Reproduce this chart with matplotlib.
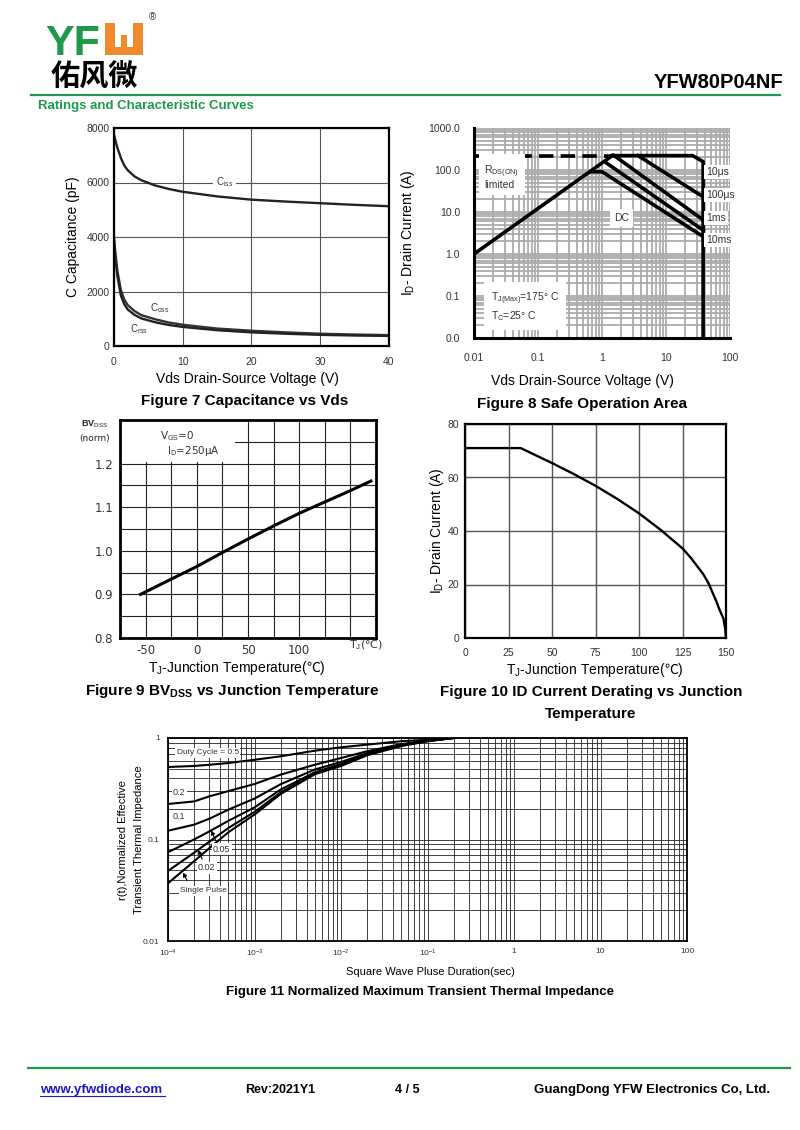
import numpy as np
import matplotlib
matplotlib.use('Agg')
import matplotlib.pyplot as plt
from matplotlib.patches import Rectangle
from matplotlib.ticker import LogLocator, NullFormatter, MultipleLocator

plt.rcParams['font.family'] = ['Liberation Sans', 'Noto Sans CJK SC', 'DejaVu Sans']
plt.rcParams['mathtext.fontset'] = 'custom'
plt.rcParams['mathtext.rm'] = 'Liberation Sans'
plt.rcParams['mathtext.it'] = 'Liberation Sans:italic'
plt.rcParams['mathtext.bf'] = 'Liberation Sans:bold'
plt.rcParams['mathtext.sf'] = 'Noto Sans CJK SC'
plt.rcParams['mathtext.default'] = 'rm'

W, H = 800, 1130
GREEN = '#1f9a4c'
ORANGE = '#f08a2c'
TICK = '#333333'

## Figure 7 - capacitance vs Vds (pF)
cap_vds = [0, 0.25, 0.5, 1, 1.5, 2, 3, 4, 6, 8, 10, 15, 20, 25, 30, 35, 40]
cap_ciss = [7750, 7500, 7270, 6900, 6620, 6450, 6220, 6080, 5890, 5760, 5660, 5490, 5370, 5300, 5240, 5180, 5130]
cap_coss = [4000, 3300, 2750, 2050, 1700, 1500, 1280, 1130, 980, 860, 780, 640, 560, 500, 450, 420, 400]
cap_crss = [3800, 3100, 2550, 1850, 1530, 1340, 1140, 1010, 870, 770, 700, 580, 500, 450, 410, 385, 370]

## Figure 8 - safe operating area (V, A)
soa_rds_v = [0.01, 1.45]
soa_rds_i = [1.0, 220]
soa_dash_v = [0.01, 1.45]
soa_dash_i = [220, 220]
soa_10us_v = [1.45, 26, 38, 38]
soa_10us_i = [220, 220, 158, 0.01]
soa_100us_v = [3.65, 38]
soa_100us_i = [220, 23]
soa_1ms_v = [1.55, 38]
soa_1ms_i = [220, 6.5]
soa_10ms_v = [1.15, 38]
soa_10ms_i = [150, 3.7]
soa_dc_v = [0.68, 1.0, 38]
soa_dc_i = [91, 91, 2.6]

## Figure 9 - BVdss (norm) vs Tj
bv_temp = [-55, -25, 0, 25, 50, 75, 100, 125, 150, 170]
bv_norm = [0.900, 0.935, 0.964, 0.996, 1.027, 1.057, 1.086, 1.112, 1.138, 1.160]

## Figure 10 - Id derating vs Tj
id_temp = [0, 32, 50, 62.5, 75, 87.5, 100, 112.5, 125, 130, 137, 140, 144.6, 146, 148.5, 149.5, 150]
id_curr = [71, 71, 65.4, 61.3, 56.9, 52, 46.6, 40.4, 33.5, 29.8, 23.8, 20.4, 13.5, 11, 7.3, 3.5, 0]

## Figure 11 - transient thermal impedance
th_t = [1e-4, 2e-4, 3e-4, 5e-4, 1e-3, 2e-3, 5e-3, 1e-2, 2e-2, 5e-2, 1e-1, 2e-1]
th_d50 = [0.518, 0.53, 0.545, 0.567, 0.61, 0.66, 0.75, 0.81, 0.86, 0.93, 0.96, 1.0]
th_d20 = [0.224, 0.237, 0.266, 0.30, 0.352, 0.435, 0.546, 0.635, 0.74, 0.87, 0.94, 1.0]
th_d10 = [0.122, 0.14, 0.16, 0.197, 0.253, 0.35, 0.49, 0.58, 0.71, 0.86, 0.94, 1.0]
th_d05 = [0.075, 0.10, 0.12, 0.153, 0.207, 0.31, 0.46, 0.554, 0.695, 0.85, 0.935, 1.0]
th_d02 = [0.049, 0.074, 0.095, 0.13, 0.187, 0.29, 0.45, 0.538, 0.685, 0.84, 0.93, 1.0]
th_single = [0.037, 0.061, 0.082, 0.118, 0.176, 0.28, 0.44, 0.53, 0.675, 0.835, 0.93, 1.0]

fig = plt.figure(figsize=(8, 11.3), dpi=100)

# page overlay in pixel coords (y down)
page = fig.add_axes([0, 0, 1, 1])
page.set_xlim(0, W)
page.set_ylim(H, 0)
page.axis('off')


def px_axes(x0, y0, x1, y1):
    return fig.add_axes([x0 / W, 1 - y1 / H, (x1 - x0) / W, (y1 - y0) / H])


## header
page.text(45, 55, 'YF', color=GREEN, fontsize=31, fontweight='bold', va='baseline')
for r in [(105, 23, 10, 32), (133, 23, 10, 32), (105, 47, 38, 8), (121, 35, 6, 13)]:
    page.add_patch(Rectangle((r[0], r[1]), r[2], r[3], color=ORANGE, lw=0))
page.text(152, 17, '®', fontsize=7, ha='center', va='center', color='#333')
page.text(51, 77, '佑风微', family='Noto Sans CJK SC', fontweight='bold', fontsize=21, va='center')
page.text(783, 88, 'YFW80P04NF', fontsize=14.5, fontweight='bold', ha='right', va='baseline')
page.plot([31, 780], [95, 95], color=GREEN, lw=1.6)
page.text(38, 106, 'Ratings and Characteristic Curves', color=GREEN, fontsize=9.5,
          fontweight='bold', va='center')

## footer
page.plot([28, 790], [1068, 1068], color=GREEN, lw=1.6)
page.text(40, 1090, 'www.yfwdiode.com', color='#1a1acc', fontsize=9.5, fontweight='bold', va='center')
page.plot([40, 165], [1096, 1096], color='#1a1acc', lw=0.8)
page.text(245, 1090, 'Rev:2021Y1', fontsize=9, fontweight='bold', va='center')
page.text(395, 1090, '4 / 5', fontsize=9, fontweight='bold', va='center')
page.text(770, 1090, 'GuangDong YFW Electronics Co, Ltd.', fontsize=9.5, fontweight='bold',
          va='center', ha='right')

## Figure 7
ax7 = px_axes(114, 128, 389, 346)
ax7.plot(cap_vds, cap_ciss, color='#222', lw=1.7)
ax7.plot(cap_vds, cap_coss, color='#333', lw=1.7)
ax7.plot(cap_vds, cap_crss, color='#222', lw=1.7)
ax7.set_xlim(0, 40)
ax7.set_ylim(0, 8000)
ax7.set_xticks([0, 10, 20, 30, 40])
ax7.set_yticks([0, 2000, 4000, 6000, 8000])
ax7.grid(color='#555', lw=0.8)
ax7.tick_params(length=0, labelsize=7.5, colors=TICK)
ax7.tick_params(axis='x', pad=8)
ax7.tick_params(axis='y', pad=3)
for s in ax7.spines.values():
    s.set_linewidth(1.6)
ax7.text(16.1, 6000, 'C$_{iss}$', fontsize=7, color=TICK, ha='center', va='center',
         bbox=dict(fc='white', ec='none', pad=2))
ax7.text(6.6, 1400, 'C$_{oss}$', fontsize=7, color=TICK, ha='center', va='center')
ax7.text(3.7, 610, 'C$_{rss}$', fontsize=7, color=TICK, ha='center', va='center')
page.text(73, 237, 'C Capacitance (pF)', fontsize=10, rotation=90, ha='center', va='center')
page.text(247, 379, 'Vds Drain-Source Voltage (V)', fontsize=10, ha='center', va='center')
page.text(245, 401, 'Figure 7 Capacitance vs Vds', fontsize=11, fontweight='bold', ha='center', va='center')

## Figure 8
ax8 = px_axes(474, 128, 730, 338)
ax8.set_xscale('log')
ax8.set_yscale('log')
ax8.set_xlim(0.01, 100)
ax8.set_ylim(0.01, 1000)
for axis in (ax8.xaxis, ax8.yaxis):
    axis.set_minor_locator(LogLocator(base=10, subs=np.arange(2, 10), numticks=100))
    axis.set_minor_formatter(NullFormatter())
ax8.grid(which='both', color='#ababab', lw=1.3)
ax8.set_xticks([0.01, 0.1, 1, 10, 100])
ax8.set_xticklabels(['0.01', '0.1', '1', '10', '100'])
ax8.set_yticks([0.01, 0.1, 1, 10, 100, 1000])
ax8.set_yticklabels(['0.0', '0.1', '1.0', '10.0', '100.0', '1000.0'])
ax8.tick_params(which='both', length=0, labelsize=7.5, colors=TICK)
ax8.tick_params(axis='x', pad=11)
ax8.tick_params(axis='y', pad=10)
ax8.spines['top'].set_visible(False)
ax8.spines['right'].set_visible(False)
ax8.spines['left'].set_linewidth(2.2)
ax8.spines['bottom'].set_linewidth(2.2)
ax8.plot(soa_dash_v, soa_dash_i, color='k', lw=2.6, ls=(0, (4, 2)))
ax8.plot(soa_rds_v, soa_rds_i, color='k', lw=2.6)
ax8.plot(soa_10us_v, soa_10us_i, color='k', lw=2.6)
ax8.plot(soa_100us_v, soa_100us_i, color='k', lw=2.6)
ax8.plot(soa_1ms_v, soa_1ms_i, color='k', lw=2.6)
ax8.plot(soa_10ms_v, soa_10ms_i, color='k', lw=2.6)
ax8.plot(soa_dc_v, soa_dc_i, color='k', lw=2.6)
wbox = dict(fc='white', ec='none', pad=1.5)
ax8.text(0.0145, 70, 'R$_{DS(ON)}$\nlimited', fontsize=7.5, color=TICK, va='center', ha='left',
         linespacing=1.0, bbox=dict(fc='white', ec='none', pad=4))
ax8.text(1.55, 7.2, 'DC', fontsize=7.5, color=TICK, va='center', ha='left',
         bbox=dict(fc='white', ec='none', pad=3))
ax8.text(0.0185, 0.055, 'T$_{J(Max)}$=175° C\nT$_C$=25° C', fontsize=7.5, color=TICK,
         va='center', ha='left', linespacing=1.2, bbox=dict(fc='white', ec='none', pad=5))
for lab, yv in [('10μs', 89), ('100μs', 25), ('1ms', 7.2), ('10ms', 2.16)]:
    ax8.text(42, yv, lab, fontsize=7.5, color=TICK, va='center', ha='left', bbox=wbox)
page.text(408, 233, 'I$_D$- Drain Current (A)', fontsize=10, rotation=90, ha='center', va='center')
page.text(582, 381, 'Vds Drain-Source Voltage (V)', fontsize=10, ha='center', va='center')
page.text(582, 404, 'Figure 8 Safe Operation Area', fontsize=11, fontweight='bold', ha='center', va='center')

## Figure 9
ax9 = px_axes(120, 420, 376, 638)
ax9.plot(bv_temp, bv_norm, color='k', lw=2.2, zorder=3)
ax9.set_xlim(-75, 175)
ax9.set_ylim(0.8, 1.3)
ax9.set_xticks([-50, 0, 50, 100])
ax9.set_xticklabels(['-50', '0', '50', '100'])
ax9.xaxis.set_minor_locator(MultipleLocator(25))
ax9.set_yticks([0.8, 0.9, 1.0, 1.1, 1.2])
ax9.set_yticklabels(['0.8', '0.9', '1.0', '1.1', '1.2'])
ax9.yaxis.set_minor_locator(MultipleLocator(0.05))
ax9.grid(which='both', color='#222', lw=0.8)
ax9.tick_params(which='both', length=0, labelsize=8.5, colors=TICK, labelfontfamily='DejaVu Sans')
ax9.tick_params(axis='x', pad=4)
ax9.tick_params(axis='y', pad=5)
for s in ax9.spines.values():
    s.set_linewidth(2)
ax9.add_patch(Rectangle((-75, 1.203), 112, 0.097, fc='white', ec='none', zorder=1.6))
ax9.text(-36, 1.262, 'V$_{GS}$=0', fontsize=7.5, family='DejaVu Sans', color=TICK, va='center', zorder=4)
ax9.text(-29, 1.228, 'I$_D$=250μA', fontsize=7.5, family='DejaVu Sans', color=TICK, va='center', zorder=4)
ax9.text(165, 0.8, 'T$_J$(°C)', fontsize=8, family='DejaVu Sans', color=TICK, ha='center', va='top',
         transform=ax9.transData, clip_on=False)
page.text(95, 424, 'BV$_{DSS}$', fontsize=6.5, fontweight='bold', ha='center', va='center', color='#222')
page.text(95, 438, '(norm)', fontsize=6.5, family='DejaVu Sans', ha='center', va='center', color='#222')
page.text(237, 668, 'T$_J$-Junction Temperature($\\mathsf{℃}$)', fontsize=10, ha='center', va='center')
page.text(232, 691, 'Figure 9 BV$_{\\mathbf{DSS}}$ vs Junction Temperature', fontsize=11,
          fontweight='bold', ha='center', va='center')

## Figure 10
ax10 = px_axes(465, 424, 726, 638)
ax10.plot(id_temp, id_curr, color='k', lw=1.7, zorder=3)
ax10.set_xlim(0, 150)
ax10.set_ylim(0, 80)
ax10.set_xticks(np.arange(0, 151, 25))
ax10.set_yticks(np.arange(0, 81, 20))
ax10.grid(color='#555', lw=1.0)
ax10.tick_params(length=0, labelsize=7.5, colors=TICK)
ax10.tick_params(axis='x', pad=7)
ax10.tick_params(axis='y', pad=4)
for s in ax10.spines.values():
    s.set_linewidth(1.6)
page.text(437, 531, 'I$_D$- Drain Current (A)', fontsize=10, rotation=90, ha='center', va='center')
page.text(595, 670, 'T$_J$-Junction Temperature($\\mathsf{℃}$)', fontsize=10, ha='center', va='center')
page.text(591, 692, 'Figure 10 ID Current Derating vs Junction', fontsize=11, fontweight='bold',
          ha='center', va='center')
page.text(591, 714, 'Temperature', fontsize=11, fontweight='bold', ha='center', va='center')

## Figure 11
ax11 = px_axes(168, 738, 687, 941)
ax11.set_xscale('log')
ax11.set_yscale('log')
ax11.set_xlim(1e-4, 100)
ax11.set_ylim(0.01, 1)
for axis in (ax11.xaxis, ax11.yaxis):
    axis.set_minor_locator(LogLocator(base=10, subs=np.arange(2, 10), numticks=100))
    axis.set_minor_formatter(NullFormatter())
ax11.grid(which='both', color='#222', lw=0.6)
ax11.set_xticks([1e-4, 1e-3, 1e-2, 1e-1, 1, 10, 100])
ax11.set_xticklabels(['10$^{-4}$', '10$^{-3}$', '10$^{-2}$', '10$^{-1}$', '1', '10', '100'])
ax11.set_yticks([0.01, 0.1, 1])
ax11.set_yticklabels(['0.01', '0.1', '1'])
ax11.tick_params(which='both', length=0, labelsize=6, colors=TICK)
ax11.tick_params(axis='x', pad=5)
ax11.tick_params(axis='y', pad=6)
for s in ax11.spines.values():
    s.set_linewidth(1.3)
for series in (th_d50, th_d20, th_d10, th_d05, th_d02, th_single):
    ax11.plot(th_t, series, color='k', lw=1.5, zorder=3)
lbox = dict(fc='white', ec='none', pad=1)
ax11.text(1.26e-4, 0.716, 'Duty Cycle = 0.5', fontsize=6, color=TICK, va='center', bbox=lbox)
ax11.text(1.14e-4, 0.292, '0.2', fontsize=6.5, color=TICK, va='center', bbox=lbox)
ax11.text(1.14e-4, 0.168, '0.1', fontsize=6.5, color=TICK, va='center', bbox=lbox)
ax11.text(3.31e-4, 0.0806, '0.05', fontsize=6.5, color=TICK, va='center', bbox=lbox)
ax11.text(2.22e-4, 0.0524, '0.02', fontsize=6.5, color=TICK, va='center', bbox=lbox)
ax11.text(1.38e-4, 0.0313, 'Single Pulse', fontsize=6, color=TICK, va='center', bbox=lbox)
arrow = dict(arrowstyle='-|>', color='k', lw=0.8, mutation_scale=6)
ax11.annotate('', xy=(3.06e-4, 0.13), xytext=(3.66e-4, 0.0924), arrowprops=arrow)
ax11.annotate('', xy=(2.15e-4, 0.0844), xytext=(2.56e-4, 0.0604), arrowprops=arrow)
ax11.annotate('', xy=(1.44e-4, 0.05), xytext=(1.72e-4, 0.0373), arrowprops=arrow)
page.text(123, 840, 'r(t),Normalized Effective', fontsize=8, rotation=90, ha='center', va='center')
page.text(139, 840, 'Transient Thermal Impedance', fontsize=8, rotation=90, ha='center', va='center')
page.text(430, 972, 'Square Wave Pluse Duration(sec)', fontsize=8, ha='center', va='center')
page.text(420, 992, 'Figure 11 Normalized Maximum Transient Thermal Impedance', fontsize=9.5,
          fontweight='bold', ha='center', va='center')

fig.savefig('out.png', dpi=100)
